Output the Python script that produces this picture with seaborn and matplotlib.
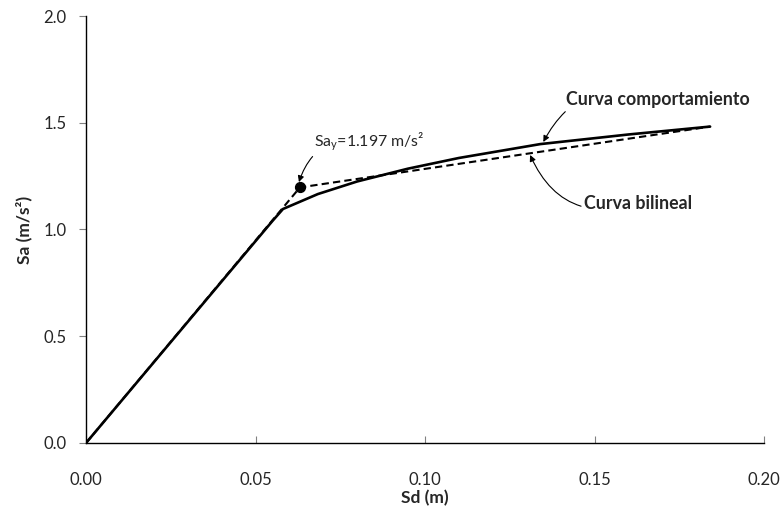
import matplotlib
matplotlib.use("Agg")
import matplotlib.pyplot as plt
import seaborn as sns
import pandas as pd

# Capacity curve (spectral displacement vs spectral acceleration)
sd_curve = [0.0, 0.0550, 0.0581, 0.0684, 0.0800, 0.0950, 0.1100, 0.1340, 0.1600, 0.1841]
sa_curve = [0.0, 1.040, 1.096, 1.166, 1.225, 1.285, 1.335, 1.400, 1.445, 1.482]

# Bilinear idealisation
sd_bilin = [0.0, 0.0631, 0.1841]
sa_bilin = [0.0, 1.197, 1.482]

# Yield point
sd_yield = 0.0631
sa_yield = 1.197

x_ticks = [0.00, 0.05, 0.10, 0.15, 0.20]
y_ticks = [0.0, 0.5, 1.0, 1.5, 2.0]

sns.set_style("ticks")
plt.rcParams["font.family"] = ["Lato", "DejaVu Sans"]
plt.rcParams["mathtext.fontset"] = "custom"
plt.rcParams["mathtext.rm"] = "Lato"

fig = plt.figure(figsize=(7.82, 5.08), dpi=100)
ax = fig.add_axes([0.110, 0.128, 0.867, 0.8405])

df_curve = pd.DataFrame({"Sd": sd_curve, "Sa": sa_curve})
df_bilin = pd.DataFrame({"Sd": sd_bilin, "Sa": sa_bilin})

sns.lineplot(data=df_curve, x="Sd", y="Sa", ax=ax, color="black", lw=1.9,
             sort=False, estimator=None)
sns.lineplot(data=df_bilin, x="Sd", y="Sa", ax=ax, color="black", lw=1.5,
             sort=False, estimator=None, dashes=False, linestyle=(0, (3.5, 2)))
ax.scatter([sd_yield], [sa_yield], s=50, color="black", zorder=5)

ax.set_xlim(0, 0.20)
ax.set_ylim(0, 2.0)
ax.set_xticks(x_ticks)
ax.set_yticks(y_ticks)
ax.set_xticklabels([f"{v:.2f}" for v in x_ticks])
ax.set_yticklabels([f"{v:.1f}" for v in y_ticks])
ax.tick_params(axis="x", direction="in", length=5, width=0.8, color="#808080",
               labelsize=12, pad=21)
ax.tick_params(axis="y", direction="out", length=5, width=0.8, color="#808080",
               labelsize=12, pad=9)
for side in ("top", "right"):
    ax.spines[side].set_visible(False)
for side in ("left", "bottom"):
    ax.spines[side].set_color("black")
    ax.spines[side].set_linewidth(1.0)

ax.set_xlabel("Sd (m)", fontsize=12.5, fontweight="bold", labelpad=1)
ax.set_ylabel("Sa (m/s²)", fontsize=12.5, fontweight="bold", labelpad=8)

arrow = dict(arrowstyle="-|>", color="black", lw=0.8, mutation_scale=9,
             shrinkA=0, shrinkB=0)

ax.annotate(r"Sa$_\mathrm{y}$" + f"={sa_yield:.3f} m/s²", xy=(0.0628, 1.222),
            xytext=(0.0672, 1.41), fontsize=11.4, va="center", ha="left",
            arrowprops=dict(arrow, connectionstyle="arc3,rad=0.45"))
ax.annotate("Curva comportamiento", xy=(0.1349, 1.41),
            xytext=(0.1415, 1.607), fontsize=12.8, fontweight="bold",
            va="center", ha="left",
            arrowprops=dict(arrow, connectionstyle="arc3,rad=0.45"))
ax.annotate("Curva bilineal", xy=(0.1310, 1.349),
            xytext=(0.1470, 1.124), fontsize=12.8, fontweight="bold",
            va="center", ha="left",
            arrowprops=dict(arrow, connectionstyle="arc3,rad=-0.45"))

fig.savefig("out.png", dpi=100)
